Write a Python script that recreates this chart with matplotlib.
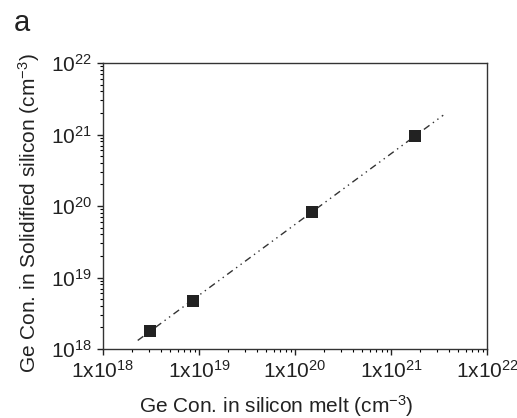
import matplotlib
matplotlib.use("Agg")
import matplotlib.pyplot as plt
import numpy as np

plt.rcParams['font.family'] = ['Liberation Sans', 'DejaVu Sans']
plt.rcParams['mathtext.fontset'] = 'custom'
plt.rcParams['mathtext.rm'] = 'Liberation Sans'
plt.rcParams['mathtext.it'] = 'Liberation Sans'

# Ge concentration in melt vs. in solidified silicon (cm^-3)
melt_conc = [3.06e18, 8.6e18, 1.5e20, 1.76e21]
solid_conc = [1.8e18, 4.7e18, 8.2e19, 9.5e20]
fit_range = [2.3e18, 3.5e21]

x_ticks = [1e18, 1e19, 1e20, 1e21, 1e22]
x_labels = ['1x10$^{18}$', '1x10$^{19}$', '1x10$^{20}$', '1x10$^{21}$', '1x10$^{22}$']
y_ticks = [1e18, 1e19, 1e20, 1e21, 1e22]
y_labels = ['10$^{18}$', '10$^{19}$', '10$^{20}$', '10$^{21}$', '10$^{22}$']

fig = plt.figure(figsize=(5.17, 4.18), dpi=100)
ax = fig.add_axes([103 / 517, 1 - 349 / 418, 384 / 517, 286 / 418])

# power-law fit in log space
b, a = np.polyfit(np.log10(melt_conc), np.log10(solid_conc), 1)
fx = np.array(fit_range)
fy = 10 ** (a + b * np.log10(fx))
ax.plot(fx, fy, color='#333333', lw=1.0, linestyle=(0, (5, 3, 1, 3, 1, 3)))

ax.plot(melt_conc, solid_conc, 's', color='#222222', markersize=8, markeredgewidth=0)

ax.set_xscale('log')
ax.set_yscale('log')
ax.set_xlim(1e18, 1e22)
ax.set_ylim(1e18, 1e22)
ax.set_xticks(x_ticks)
ax.set_xticklabels(x_labels)
ax.set_yticks(y_ticks)
ax.set_yticklabels(y_labels)

ax.tick_params(which='major', direction='out', length=4, width=1, labelsize=15, colors='#222222', pad=4)
ax.tick_params(which='minor', direction='out', length=2.5, width=0.8)
for side in ax.spines:
    ax.spines[side].set_color('#333333')
    ax.spines[side].set_linewidth(1.0)

ax.set_xlabel('Ge Con. in silicon melt (cm$^{-3}$)', fontsize=15, color='#222222', labelpad=8)
ax.set_ylabel('Ge Con. in Solidified silicon (cm$^{-3}$)', fontsize=15, color='#222222', labelpad=6)
ax.xaxis.label.set_x(0.45)
ax.yaxis.label.set_y(0.475)

fig.text(14 / 517, 1 - 31 / 418, 'a', fontsize=21, color='#222222')

fig.savefig('out.png', dpi=100)
